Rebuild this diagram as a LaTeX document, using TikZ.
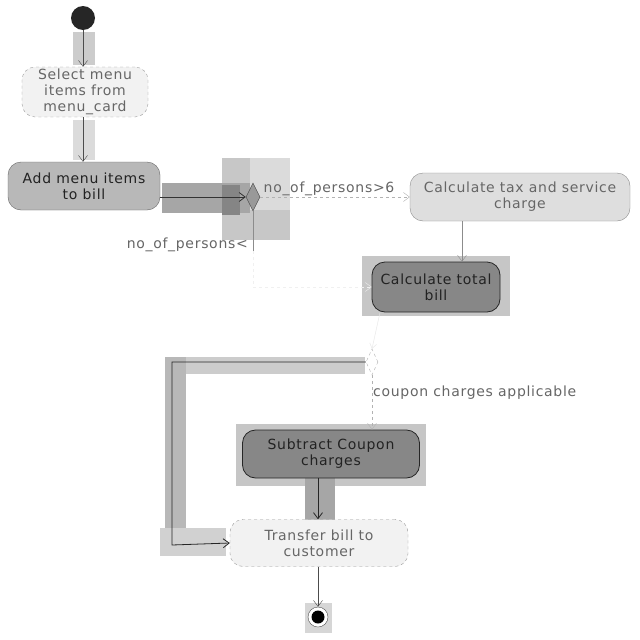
\documentclass[tikz,border=0pt]{standalone}
\usepackage{fontspec}
\setmainfont[LetterSpace=5]{DejaVu Sans}
\usetikzlibrary{arrows.meta,shapes.geometric,calc}
\definecolor{txtlight}{HTML}{666666}
\definecolor{txtdark}{HTML}{222222}
\definecolor{hl}{HTML}{C6C6C6}
\begin{document}
\begin{tikzpicture}[x=1pt,y=-1pt,
  font=\fontsize{14}{16}\selectfont,
  act/.style={rounded corners=13pt, align=center, inner sep=2pt, anchor=center},
  actlight/.style={act, draw=gray!80, fill=black!5, dashed, text=txtlight},
  actmid/.style={act, draw=black!60, fill=black!28, text=txtdark},
  acttax/.style={act, draw=black!45, fill=black!13, text=txtlight},
  actdark/.style={act, draw=black!85, fill=black!47, thick, text=txtdark},
  decision/.style={diamond, aspect=0.5, inner sep=0pt, minimum width=14pt, minimum height=28pt},
  arr/.style={draw=black!70, -{Straight Barb[length=6pt,width=9pt]}},
  arrlight/.style={draw=black!30, dashed, -{Straight Barb[length=6pt,width=9pt]}},
  guard/.style={text=txtlight, inner sep=1pt}
]
\useasboundingbox (0,0) rectangle (640,640);
\fill[white] (0,0) rectangle (640,640);

% selection highlights behind the flows
\fill[black!20] (73,32) rectangle (95,65);
\fill[black!14] (73,120) rectangle (95,160);
\fill[black!22] (222,158) rectangle (290,240);
\fill[black!14] (250,158) rectangle (290,210);
\fill[black!35] (162,183) rectangle (250,213);
\fill[black!48] (222,185) rectangle (240,215);
\fill[hl] (362,256) rectangle (510,316);
\fill[black!20] (165,357) rectangle (365,374);
\fill[black!28] (165,357) rectangle (186,545);
\fill[black!18] (160,528) rectangle (226,556);
\fill[hl] (236,424) rectangle (426,486);
\fill[black!35] (305,478) rectangle (335,520);
\fill[black!16] (305,603) rectangle (332,633);

% nodes
\node[circle, fill=black!85, minimum size=24pt, inner sep=0pt] (start) at (83,18) {};
\node[actlight, minimum width=126pt, minimum height=48pt] (select) at (85,92)
  {Select menu\\items from\\menu\_card};
\node[actmid, minimum width=152pt, minimum height=48pt] (add) at (84,186)
  {Add menu items\\to bill};
\node[decision, draw=black!70, fill=black!40] (d1) at (253,197) {};
\node[acttax, minimum width=220pt, minimum height=48pt] (tax) at (520,197)
  {Calculate tax and service\\charge};
\node[actdark, minimum width=128pt, minimum height=50pt] (total) at (436,287)
  {Calculate total\\bill};
\node[decision, draw=black!30, dashed, fill=white, minimum width=12pt, minimum height=26pt] (d2) at (372,362) {};
\node[actdark, minimum width=177pt, minimum height=48pt] (coupon) at (331,454)
  {Subtract Coupon\\charges};
\node[actlight, minimum width=178pt, minimum height=47pt] (transfer) at (319,543)
  {Transfer bill to\\customer};
\node[circle, draw=black!70, fill=white, minimum size=20pt, inner sep=0pt] (stop) at (318,617) {};
\node[circle, fill=black, minimum size=13pt, inner sep=0pt] at (stop) {};

\coordinate (bend1) at (172,362);
\coordinate (bend2) at (172,545);
\coordinate (lowbend) at (253,287);

% flows
\draw[arr] (start) -- (select.north -| start);
\draw[arr] (select.south -| start) -- (add.north -| start);
\draw[arr, thick, draw=black!80] (add.east |- d1) -- (d1.west);
\draw[arrlight] (d1.east) -- node[guard, above, pos=0.46] {no\_of\_persons>6} (tax.west);
\draw[draw=black!45] (d1.south) -- ($(d1.south)+(0,40)$);
\draw[draw=black!6, dashed, -{Straight Barb[length=6pt,width=9pt]}] ($(d1.south)+(0,40)$) -- (lowbend) -- (total.west);
\node[guard, anchor=east] (lowguard) at (249,245) {no\_of\_persons<};
\draw[arr, draw=black!45] ($(tax.south)+(-58,0)$) -- ($(total.north)+(26,0)$);
\draw[draw=black!10, -{Straight Barb[length=5pt,width=7pt]}] ($(total.south)+(-56,0)$) -- (d2.north);
\draw[arr, thick, draw=black!85] (d2.west) -- (bend1) -- (bend2) -- (transfer.west);
\draw[arrlight] (d2.south) -- node[guard, right, pos=0.32] {coupon charges applicable} ($(coupon.north)+(41,0)$);
\draw[arr, thick, draw=black!85] ($(coupon.south)+(-13,0)$) -- (transfer.north -| stop);
\draw[arr] (transfer.south -| stop) -- (stop.north);
\end{tikzpicture}
\end{document}
